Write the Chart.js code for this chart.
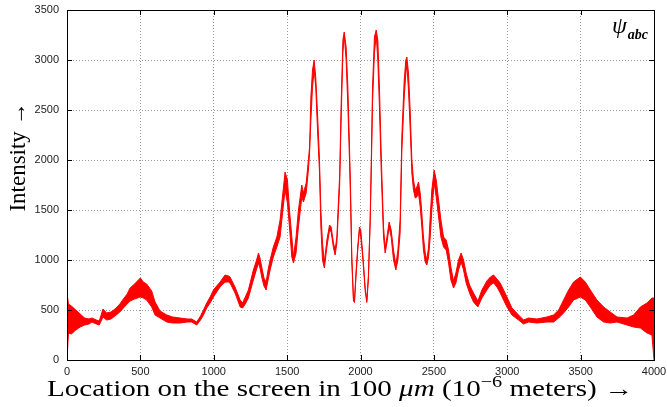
<!DOCTYPE html>
<html>
<head>
<meta charset="utf-8">
<script src="https://cdn.jsdelivr.net/npm/chart.js@4.4.1/dist/chart.umd.min.js"></script>
<style>
  html, body { margin: 0; padding: 0; background: #fff; }
</style>
</head>
<body>
<canvas id="screenChart" width="667" height="407"></canvas>
<script>
// positions on the screen (x) and the noisy intensity band
const positions = [
  0, 10, 30, 60, 90, 120, 150, 170, 200, 220, 245, 270, 300, 327, 360, 384, 410, 430, 460, 500,
  520, 543, 577, 600, 634, 680, 720, 770, 820, 850, 884, 910, 930, 952, 975, 998, 1020, 1043, 1077, 1100,
  1111, 1145, 1180, 1197, 1215, 1236, 1270, 1290, 1305, 1315, 1327, 1342, 1357, 1370, 1384, 1406, 1430, 1452, 1471, 1486,
  1502, 1516, 1532, 1543, 1561, 1577, 1600, 1611, 1630, 1645, 1653, 1662, 1673, 1684, 1695, 1707, 1720, 1730, 1741, 1754,
  1771, 1789, 1800, 1816, 1827, 1839, 1850, 1858, 1868, 1880, 1889, 1902, 1914, 1925, 1932, 1941, 1952, 1959, 1970, 1982,
  1993, 2002, 2016, 2032, 2043, 2054, 2066, 2073, 2082, 2095, 2107, 2118, 2129, 2141, 2148, 2157, 2168, 2180, 2195, 2209,
  2225, 2241, 2255, 2270, 2282, 2298, 2309, 2316, 2327, 2339, 2350, 2361, 2373, 2384, 2395, 2407, 2418, 2429, 2441, 2452,
  2464, 2475, 2486, 2502, 2516, 2532, 2548, 2566, 2584, 2600, 2616, 2634, 2650, 2668, 2686, 2702, 2720, 2743, 2770, 2800,
  2827, 2861, 2885, 2907, 2930, 2952, 2975, 2998, 3032, 3077, 3111, 3145, 3202, 3270, 3316, 3350, 3384, 3418, 3452, 3498,
  3532, 3566, 3611, 3657, 3702, 3748, 3816, 3861, 3907, 3952, 3986, 4000
];
const intensityLow = [
  0, 270, 260, 300, 330, 350, 360, 380, 360, 350, 430, 400, 410, 440, 480, 520, 560, 590, 610, 630,
  620, 600, 530, 450, 420, 380, 370, 370, 380, 380, 350, 400, 450, 520, 570, 630, 680, 730, 780, 780,
  770, 670, 530, 520, 560, 620, 800, 900, 970, 920, 830, 740, 700, 800, 900, 1030, 1130, 1230, 1500, 1700,
  1570, 1330, 1030, 970, 1070, 1330, 1630, 1580, 1670, 1900, 2070, 2400, 2730, 2900, 2730, 2300, 1900, 1330, 1000, 920,
  1130, 1300, 1280, 1120, 1050, 1170, 1500, 1750, 2400, 3070, 3250, 3000, 2530, 2000, 1600, 980, 590, 575, 850, 1110,
  1300, 1230, 1010, 690, 575, 810, 1380, 1850, 2570, 3070, 3250, 3000, 2530, 1900, 1600, 1230, 1070, 1170, 1330, 1230,
  1000, 900, 1000, 1270, 2100, 2630, 2870, 2950, 2700, 2300, 1870, 1700, 1620, 1630, 1670, 1530, 1330, 1100, 980, 950,
  1030, 1230, 1500, 1770, 1630, 1430, 1230, 1130, 1100, 970, 800, 720, 770, 900, 980, 900, 770, 670, 580, 530,
  620, 700, 750, 770, 730, 670, 600, 530, 450, 400, 360, 380, 370, 380, 380, 420, 470, 530, 600, 630,
  600, 530, 430, 380, 370, 380, 350, 330, 320, 270, 250, 0
];
const intensityHigh = [
  670, 560, 540, 500, 460, 420, 410, 420, 400, 390, 510, 470, 480, 510, 560, 610, 660, 720, 760, 820,
  780, 760, 690, 580, 490, 450, 430, 420, 410, 410, 380, 440, 500, 570, 630, 700, 740, 780, 850, 840,
  830, 730, 600, 570, 630, 700, 900, 990, 1070, 1020, 930, 820, 780, 900, 1000, 1130, 1230, 1400, 1670, 1880,
  1800, 1500, 1230, 1030, 1230, 1500, 1750, 1670, 1770, 2000, 2130, 2630, 2900, 3000, 2830, 2470, 2030, 1500, 1170, 980,
  1200, 1350, 1330, 1170, 1100, 1230, 1600, 1850, 2550, 3200, 3280, 3130, 2730, 2130, 1730, 1020, 620, 595, 890, 1150,
  1330, 1300, 1050, 720, 595, 850, 1420, 1950, 2730, 3230, 3300, 3200, 2730, 2070, 1730, 1330, 1120, 1230, 1380, 1300,
  1100, 950, 1100, 1400, 2250, 2800, 3000, 3030, 2870, 2480, 2000, 1800, 1700, 1730, 1780, 1670, 1470, 1230, 1070, 1000,
  1130, 1430, 1700, 1900, 1800, 1600, 1400, 1230, 1200, 1100, 930, 790, 870, 1000, 1070, 1000, 870, 750, 670, 590,
  700, 790, 830, 850, 810, 770, 700, 630, 520, 450, 400, 420, 410, 430, 450, 500, 600, 700, 780, 830,
  780, 700, 600, 530, 480, 430, 420, 450, 530, 570, 620, 620
];
const xTicks = [0, 500, 1000, 1500, 2000, 2500, 3000, 3500, 4000];
const yTicks = [0, 500, 1000, 1500, 2000, 2500, 3000, 3500];

const serif = '"Liberation Serif", "DejaVu Serif", serif';

// gnuplot style frame: solid box with small inward ticks on all sides
const framePlugin = {
  id: 'frame',
  afterDatasetsDraw(chart) {
    const { ctx, chartArea: a, scales } = chart;
    ctx.save();
    ctx.strokeStyle = '#000';
    ctx.lineWidth = 1;
    ctx.strokeRect(Math.round(a.left) + 0.5, Math.round(a.top) + 0.5,
      Math.round(a.right - a.left), Math.round(a.bottom - a.top));
    ctx.beginPath();
    xTicks.forEach(v => {
      const px = Math.round(scales.x.getPixelForValue(v)) + 0.5;
      ctx.moveTo(px, a.bottom); ctx.lineTo(px, a.bottom - 5);
      ctx.moveTo(px, a.top); ctx.lineTo(px, a.top + 5);
    });
    yTicks.forEach(v => {
      const py = Math.round(scales.y.getPixelForValue(v)) + 0.5;
      ctx.moveTo(a.left, py); ctx.lineTo(a.left + 5, py);
      ctx.moveTo(a.right, py); ctx.lineTo(a.right - 5, py);
    });
    ctx.stroke();
    ctx.restore();
  }
};

// axis titles and the key, drawn as text
const labelsPlugin = {
  id: 'labels',
  afterDraw(chart) {
    const { ctx } = chart;
    ctx.save();
    ctx.fillStyle = '#000';

    // y title
    ctx.translate(19, 157);
    ctx.rotate(-Math.PI / 2);
    ctx.font = '23px ' + serif;
    ctx.textAlign = 'center';
    ctx.textBaseline = 'middle';
    ctx.fillText('Intensity \u2192', 0, 0);
    ctx.setTransform(1, 0, 0, 1, 0, 0);

    // x title, mixed styles
    const parts = [
      { t: 'Location on the screen in 100 ', f: '23px ' + serif, dy: 0 },
      { t: '\u03bcm', f: 'italic 23px ' + serif, dy: 0 },
      { t: ' (10', f: '23px ' + serif, dy: 0 },
      { t: '\u22126', f: '16px ' + serif, dy: -9 },
      { t: ' meters) \u2192', f: '23px ' + serif, dy: 0 }
    ];
    let total = 0;
    parts.forEach(p => { ctx.font = p.f; p.w = ctx.measureText(p.t).width; total += p.w; });
    const scaleX = 586 / total;
    ctx.translate(47, 396);
    ctx.scale(scaleX, 1);
    ctx.textAlign = 'left';
    ctx.textBaseline = 'alphabetic';
    let cx = 0;
    parts.forEach(p => { ctx.font = p.f; ctx.fillText(p.t, cx, p.dy); cx += p.w; });
    ctx.setTransform(1, 0, 0, 1, 0, 0);

    // key
    ctx.textAlign = 'right';
    ctx.font = 'italic bold 14px ' + serif;
    const subW = ctx.measureText('abc').width;
    ctx.fillText('abc', 648, 39);
    ctx.font = 'italic 24px ' + serif;
    ctx.fillText('\u03c8', 648 - subW - 1, 33);
    ctx.restore();
  }
};

const toPoints = ys => positions.map((x, i) => ({ x: x, y: ys[i] }));

new Chart(document.getElementById('screenChart'), {
  type: 'line',
  data: {
    datasets: [
      {
        label: 'low',
        data: toPoints(intensityLow),
        borderColor: '#ff0000',
        borderWidth: 1,
        pointRadius: 0,
        fill: false
      },
      {
        label: '\u03c8abc',
        data: toPoints(intensityHigh),
        borderColor: '#ff0000',
        borderWidth: 1,
        pointRadius: 0,
        backgroundColor: '#ff0000',
        fill: '-1'
      }
    ]
  },
  options: {
    responsive: false,
    devicePixelRatio: 1,
    animation: false,
    layout: { padding: { top: 10, right: 13, left: 0, bottom: 0 } },
    plugins: {
      legend: { display: false },
      tooltip: { enabled: false }
    },
    scales: {
      x: {
        type: 'linear',
        min: 0,
        max: 4000,
        afterFit: scale => {
          scale.height = 47;
          scale.paddingLeft = 0;
          scale.paddingRight = 0;
        },
        afterBuildTicks: scale => { scale.ticks = xTicks.map(v => ({ value: v })); },
        ticks: {
          maxRotation: 0,
          autoSkip: false,
          padding: 5,
          color: '#222',
          font: { family: '"Liberation Sans", Arial, sans-serif', size: 11 },
          callback: v => String(v)
        },
        grid: { color: '#9a9a9a', lineWidth: 1, drawTicks: false },
        border: { display: false, dash: [1, 2] }
      },
      y: {
        min: 0,
        max: 3500,
        afterFit: scale => {
          scale.width = 67;
          scale.paddingTop = 0;
          scale.paddingBottom = 0;
        },
        afterBuildTicks: scale => { scale.ticks = yTicks.map(v => ({ value: v })); },
        ticks: {
          padding: 8,
          color: '#222',
          font: { family: '"Liberation Sans", Arial, sans-serif', size: 11 },
          callback: v => String(v)
        },
        grid: { color: '#9a9a9a', lineWidth: 1, drawTicks: false },
        border: { display: false, dash: [1, 2] }
      }
    }
  },
  plugins: [framePlugin, labelsPlugin]
});
</script>
</body>
</html>
